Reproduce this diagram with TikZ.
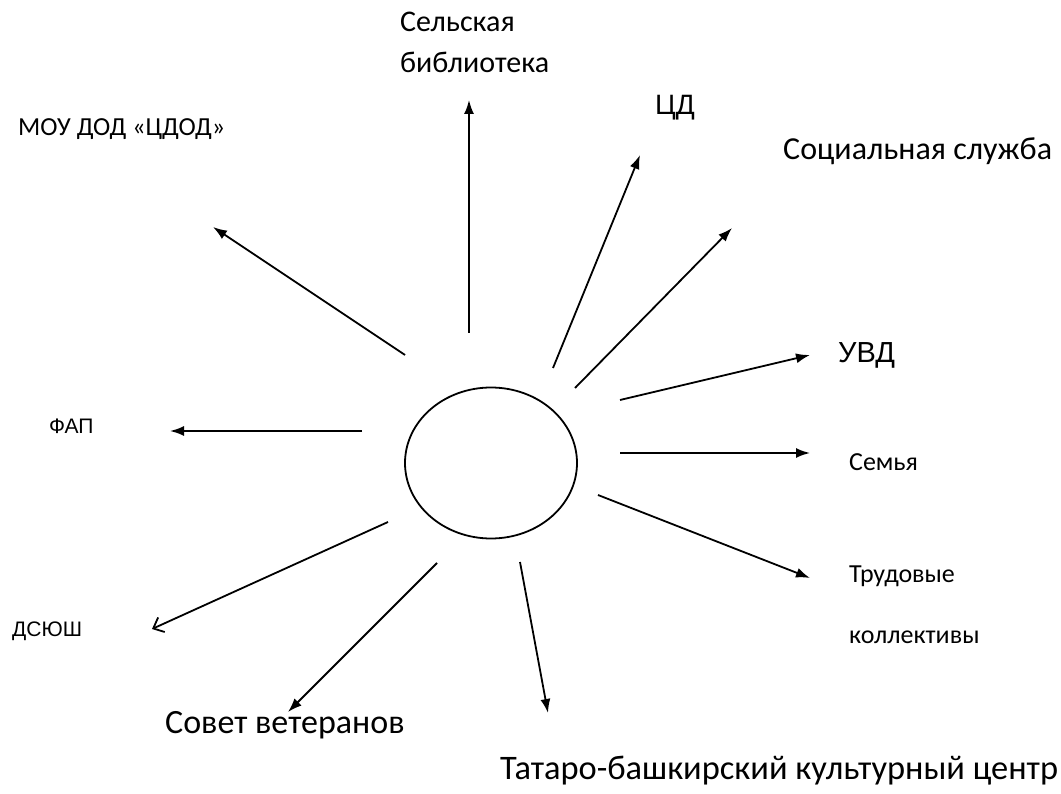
\documentclass[tikz,border=0pt]{standalone}
\usepackage{fontspec}
\setmainfont{Carlito}
\newfontfamily\arialf{Liberation Sans}
\usetikzlibrary{arrows.meta,shapes.geometric}
\tikzset{
  conn/.style={line width=1.8pt,-{Latex[length=14pt,width=10pt]}},
  openconn/.style={line width=1.8pt,-{Straight Barb[length=9pt,width=16pt,line width=1.8pt]}},
  lbl/.style={anchor=base west,inner sep=0pt,font=\fontsize{26}{30}\selectfont},
  big/.style={anchor=base west,inner sep=0pt,font=\fontsize{32}{38}\selectfont},
}
\begin{document}
\begin{tikzpicture}[x=1pt,y=-1pt]
\useasboundingbox (0,0) rectangle (1061,794);
\node[draw,ellipse,line width=1.8pt,minimum width=172pt,minimum height=151pt,inner sep=0pt] (c) at (491,463) {};
% labels
\node[lbl] (moy) at (18,136) {МОУ ДОД «ЦДОД»};
\node[big,font=\fontsize{30}{36}\selectfont] (sel1) at (400,32) {Сельская};
\node[big,font=\fontsize{30}{36}\selectfont] (sel2) at (400,73) {библиотека};
\node[big,font=\arialf\fontsize{28}{32}\selectfont] (cd) at (655,115) {ЦД};
\node[big] (soc) at (783,160) {Социальная служба};
\node[big,font=\arialf\fontsize{29}{32}\selectfont] (uvd) at (838,363) {УВД};
\node[lbl,font=\arialf\fontsize{21}{26}\selectfont] (fap) at (49,433) {ФАП};
\node[lbl] (sem) at (849,471) {Семья};
\node[lbl] (tr1) at (849,582) {Трудовые};
\node[lbl] (tr2) at (849,643) {коллективы};
\node[lbl,font=\arialf\fontsize{21}{24}\selectfont] (dsy) at (12,636) {ДСЮШ};
\node[big,font=\fontsize{34}{40}\selectfont] (sov) at (165,733) {Совет ветеранов};
\node[big,font=\fontsize{34.4}{40}\selectfont] (tat) at (500,779) {Татаро-башкирский культурный центр};
% coordinates
\coordinate (s1) at (405,355); \coordinate (e1) at (213,227);
\coordinate (s2) at (469,333); \coordinate (e2) at (469,100);
\coordinate (s3) at (553,368); \coordinate (e3) at (640,155);
\coordinate (s4) at (575,388); \coordinate (e4) at (732,228);
\coordinate (s5) at (620,400); \coordinate (e5) at (810,355);
\coordinate (s6) at (620,453); \coordinate (e6) at (810,453);
\coordinate (s7) at (598,495); \coordinate (e7) at (810,578);
\coordinate (s8) at (520,562); \coordinate (e8) at (548,713);
\coordinate (s9) at (437,563); \coordinate (e9) at (288,712);
\coordinate (s10) at (388,522); \coordinate (e10) at (152,629);
\coordinate (s11) at (362,431); \coordinate (e11) at (170,431);
\draw[conn] (s1) -- (e1);
\draw[conn] (s2) -- (e2);
\draw[conn] (s3) -- (e3);
\draw[conn] (s4) -- (e4);
\draw[conn] (s5) -- (e5);
\draw[conn] (s6) -- (e6);
\draw[conn] (s7) -- (e7);
\draw[conn] (s8) -- (e8);
\draw[conn] (s9) -- (e9);
\draw[openconn] (s10) -- (e10);
\draw[conn] (s11) -- (e11);
\end{tikzpicture}
\end{document}
